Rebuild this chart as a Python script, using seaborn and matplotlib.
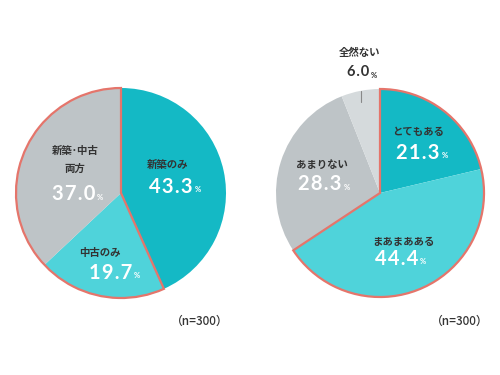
import matplotlib
matplotlib.use("Agg")
import matplotlib.pyplot as plt
import seaborn as sns

# 左の円グラフ（検討した住宅）
left_labels = ["新築のみ", "中古のみ", "新築･中古\n両方"]
left_values = [43.3, 19.7, 37.0]
left_colors = ["#14B9C5", "#4FD3DA", "#BEC4C7"]

# 右の円グラフ
right_labels = ["とてもある", "まあまあある", "あまりない", "全然ない"]
right_values = [21.3, 44.4, 28.3, 6.0]
right_colors = ["#14B9C5", "#4FD3DA", "#BEC4C7", "#D5DADC"]

n_text = "（n=300）"
red = "#E5756B"
dark = "#333333"

sns.set_theme(style="white")
plt.rcParams["font.family"] = ["Noto Sans CJK JP", "DejaVu Sans"]

W, H = 500, 375
fig = plt.figure(figsize=(5, 3.75), dpi=100)
ax = fig.add_axes([0, 0, 1, 1])


def yy(y):
    return H - y


def draw_pie(values, colors, center, radius, red_from):
    ax.pie(values, colors=colors, startangle=90, counterclock=False,
           center=center, radius=radius,
           wedgeprops={"linewidth": 0})
    # 赤い枠（グループの外周）
    if red_from == 0:
        grp = [sum(values[:2]), sum(values[2:])]
    else:
        grp = [sum(values[:red_from]), sum(values[red_from:])]
    wedges, _ = ax.pie(grp, startangle=90, counterclock=False,
                       center=center, radius=radius,
                       wedgeprops={"linewidth": 1.6, "edgecolor": red,
                                   "facecolor": "none"})
    hide = 0 if red_from == 1 else 1
    wedges[hide].set_visible(False)


draw_pie(left_values, left_colors, (121, yy(193)), 105, 1)
draw_pie(right_values, right_colors, (380, yy(193)), 104, 0)


def label(x, y, name):
    ax.text(x, yy(y), name, ha="center", va="center", fontsize=7.5,
            fontweight="bold", color=dark, linespacing=1.9)


# x は数字の右端
def pct(x, y, value, color="white", size=14.5):
    s = "\u200a".join(f"{value:.1f}")
    ax.text(x, yy(y), s, ha="right", va="center", fontsize=size,
            color=color, fontweight="bold", family=["Lato", "DejaVu Sans"])
    ax.text(x + 2, yy(y) - 3, "%", ha="left", va="center",
            fontsize=5.5, color=color, fontweight="bold",
            family=["Lato", "DejaVu Sans"])


# 左のラベル
label(168, 165, left_labels[0])
pct(193, 187, left_values[0])
label(100, 253, left_labels[1])
pct(132, 273, left_values[1])
label(75, 160, left_labels[2])
pct(95, 194, left_values[2])

# 右のラベル
label(418, 132, right_labels[0])
pct(440, 153, right_values[0])
label(403, 242, right_labels[1])
pct(418, 259, right_values[1])
label(322, 165, right_labels[2])
pct(342, 184, right_values[2])
label(360, 53, right_labels[3])
pct(369, 72, right_values[3], color=dark, size=10.5)
ax.plot([361, 361], [yy(91), yy(102)], color="#888888", linewidth=0.8)

ax.text(200, yy(321), n_text, ha="center", va="center", fontsize=8.5,
        fontweight="medium", color=dark)
ax.text(460, yy(321), n_text, ha="center", va="center", fontsize=8.5,
        fontweight="medium", color=dark)

ax.set_xlim(0, W)
ax.set_ylim(0, H)
ax.set_aspect("equal")
ax.axis("off")

plt.savefig("out.png", dpi=100)
